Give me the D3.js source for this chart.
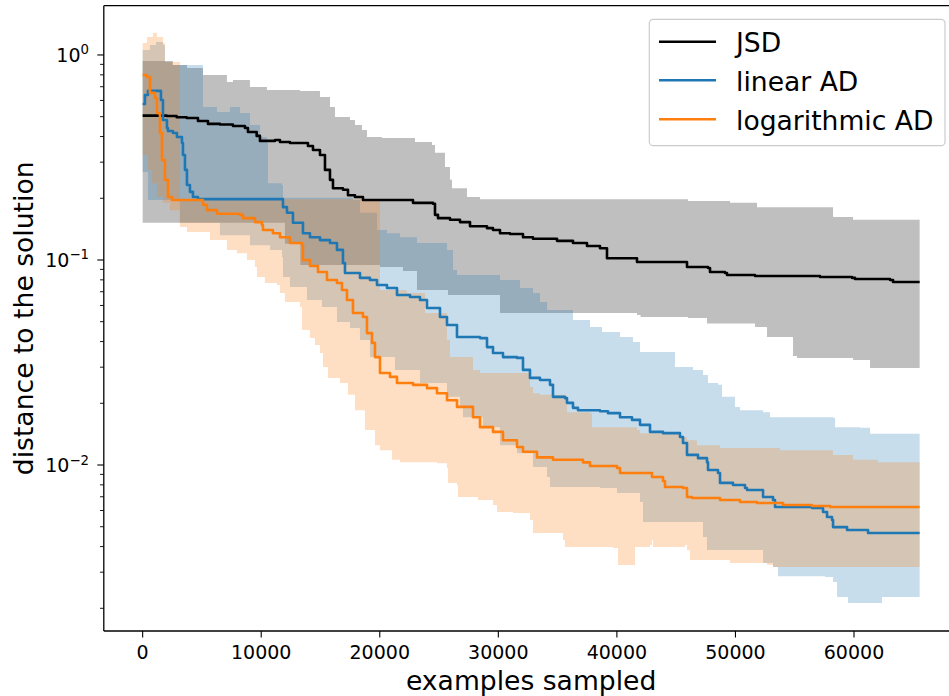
<!DOCTYPE html>
<html><head><meta charset="utf-8">
<script src="https://cdn.jsdelivr.net/npm/d3@7"></script>
<style>body{margin:0;background:#fff}svg{display:block}text{font-family:"DejaVu Sans",sans-serif;fill:#000}</style>
</head><body><svg id="c" width="949" height="696"></svg>
<script>
const seriesNames = ["JSD", "linear AD", "logarithmic AD"];
const seriesColors = ["#000000", "#1f77b4", "#ff7f0e"];
const xTicks = [0, 10000, 20000, 30000, 40000, 50000, 60000];
const yTicks = [1, 0.1, 0.01];
const yTickLabels = [["10", "0"], ["10", "\u22121"], ["10", "\u22122"]];
const xLabel = "examples sampled";
const yLabel = "distance to the solution";

const jsdMedian = [[0,0.506],[2024,0.504],[2868,0.497],[3712,0.493],[4665,0.476],[5508,0.461],[6520,0.458],[7617,0.450],[8629,0.440],[8882,0.421],[9616,0.403],[9894,0.381],[11160,0.385],[11582,0.376],[12425,0.372],[13944,0.360],[14366,0.344],[14956,0.325],[15378,0.275],[15800,0.246],[16053,0.224],[16896,0.220],[17318,0.207],[17908,0.203],[18583,0.196],[22802,0.190],[24489,0.188],[24657,0.166],[24910,0.160],[25923,0.157],[26766,0.153],[27610,0.146],[29044,0.143],[29550,0.140],[30140,0.135],[30983,0.134],[32080,0.129],[32923,0.127],[34948,0.124],[36297,0.121],[37478,0.117],[38575,0.114],[39165,0.102],[41696,0.0978],[45913,0.0924],[47686,0.0914],[47855,0.0874],[49120,0.0864],[49289,0.0845],[51651,0.0835],[57134,0.0826],[59834,0.0818],[60087,0.0808],[63039,0.0799],[63292,0.0781],[65536,0.0781]];
const jsdUpper = [[0,0.935],[2556,0.894],[3737,0.864],[5087,0.799],[7110,0.738],[7617,0.755],[9051,0.698],[10485,0.675],[13268,0.668],[14956,0.624],[15800,0.558],[16222,0.498],[17487,0.482],[17908,0.456],[18499,0.431],[18921,0.398],[20187,0.394],[22971,0.376],[24404,0.364],[24657,0.333],[25501,0.284],[25923,0.246],[26091,0.224],[27357,0.203],[28453,0.198],[45998,0.194],[49542,0.190],[51820,0.181],[58231,0.162],[59918,0.157],[65536,0.157]];
const jsdLower = [[0,0.152],[12000,0.120],[13300,0.0945],[20018,0.0924],[21958,0.0884],[23139,0.0714],[25754,0.0675],[30140,0.0551],[41696,0.0539],[42000,0.0527],[45998,0.0521],[47601,0.0490],[51651,0.0471],[52663,0.0421],[54857,0.0340],[55194,0.0333],[59918,0.0325],[61352,0.0297],[65536,0.0297]];

const linMedian = [[0,0.577],[194,0.638],[447,0.668],[1459,0.668],[1544,0.603],[1712,0.482],[2050,0.440],[2134,0.426],[2556,0.416],[2893,0.398],[3315,0.372],[3400,0.325],[3568,0.275],[3737,0.232],[3990,0.215],[4243,0.203],[4665,0.198],[11582,0.198],[11835,0.181],[12172,0.170],[12678,0.152],[13522,0.135],[14113,0.129],[14956,0.125],[15800,0.121],[16390,0.112],[16896,0.0967],[17065,0.0864],[18330,0.0818],[19174,0.0799],[19765,0.0755],[20608,0.0730],[21452,0.0675],[22549,0.0660],[23392,0.0638],[23983,0.0583],[25079,0.0527],[25670,0.0482],[26513,0.0421],[28453,0.0416],[29044,0.0376],[29550,0.0352],[30393,0.0336],[31574,0.0333],[32080,0.0291],[32670,0.0266],[33514,0.0260],[34357,0.0246],[34610,0.0215],[35622,0.0212],[35791,0.0201],[36297,0.0190],[36719,0.0185],[38575,0.0183],[39250,0.0179],[40262,0.0171],[41275,0.0166],[41949,0.0157],[42793,0.0145],[43889,0.0143],[45323,0.0137],[45576,0.0128],[45913,0.0112],[46842,0.0108],[47601,0.0103],[47686,0.00945],[48529,0.00914],[48698,0.00818],[49795,0.00799],[50807,0.00772],[50976,0.00755],[52241,0.00755],[52326,0.00698],[53169,0.00675],[53338,0.00624],[56459,0.00617],[57387,0.00590],[57725,0.00558],[58146,0.00539],[58231,0.00498],[59412,0.00482],[61183,0.00466],[65536,0.00466]];
const linUpper = [[0,1.058],[616,1.119],[1122,1.157],[1712,1.119],[1881,0.924],[2471,0.894],[5087,0.558],[6267,0.527],[7363,0.558],[8207,0.521],[9051,0.456],[9894,0.398],[10485,0.372],[10569,0.237],[11750,0.232],[11835,0.201],[17740,0.196],[18330,0.170],[19765,0.140],[20608,0.135],[21705,0.129],[23139,0.121],[25670,0.112],[26176,0.0894],[26513,0.0845],[30140,0.0799],[31827,0.0730],[32923,0.0690],[33514,0.0624],[34104,0.0570],[36297,0.0510],[37731,0.0471],[38744,0.0446],[40262,0.0421],[41359,0.0398],[41949,0.0356],[44733,0.0356],[44901,0.0301],[46420,0.0291],[47264,0.0275],[47686,0.0251],[48529,0.0246],[48867,0.0215],[49964,0.0192],[50386,0.0185],[52326,0.0181],[52916,0.0171],[58231,0.0170],[58399,0.0153],[60509,0.0152],[61352,0.0142],[65536,0.0142]];
const linLower = [[0,0.269],[447,0.196],[3146,0.152],[6520,0.132],[9051,0.118],[10738,0.112],[11750,0.103],[11835,0.0826],[12425,0.0738],[13859,0.0638],[15125,0.0590],[16390,0.0498],[17487,0.0466],[18330,0.0407],[19174,0.0336],[21282,0.0291],[23392,0.0251],[25670,0.0215],[26766,0.0192],[27019,0.0171],[28706,0.0153],[30140,0.0125],[31574,0.0114],[32923,0.00978],[34104,0.00874],[34357,0.00781],[38575,0.00772],[40009,0.00730],[41949,0.00660],[42202,0.00527],[47264,0.00446],[47601,0.00385],[52326,0.00333],[53169,0.00318],[53591,0.00287],[57556,0.00284],[58231,0.00269],[58568,0.00227],[59412,0.00227],[59496,0.00212],[62196,0.00212],[62364,0.00227],[65536,0.00227]];

const logMedian = [[0,0.799],[363,0.781],[616,0.653],[1038,0.617],[1206,0.521],[1459,0.416],[1628,0.307],[1881,0.246],[2134,0.203],[2471,0.196],[5087,0.186],[5424,0.175],[6267,0.168],[8207,0.166],[8460,0.160],[9473,0.153],[10063,0.148],[10148,0.140],[10991,0.135],[11582,0.129],[12425,0.121],[13437,0.118],[13522,0.100],[14113,0.0934],[14788,0.0874],[15547,0.0799],[16390,0.0772],[16812,0.0714],[17234,0.0638],[17740,0.0551],[18583,0.0527],[18921,0.0440],[19343,0.0394],[19596,0.0336],[20018,0.0281],[20862,0.0269],[21452,0.0251],[22802,0.0246],[23983,0.0237],[24826,0.0224],[25670,0.0207],[26513,0.0192],[27863,0.0171],[28453,0.0153],[29550,0.0145],[30393,0.0132],[31574,0.01224],[32080,0.0116],[33261,0.0109],[34610,0.0106],[37141,0.0103],[37731,0.00989],[40009,0.00967],[40262,0.00914],[42961,0.00874],[43889,0.00835],[44058,0.00781],[45576,0.00772],[45913,0.00698],[46335,0.00690],[48698,0.00675],[50386,0.00660],[51820,0.00653],[54013,0.00638],[56459,0.00631],[57978,0.00624],[65536,0.00624]];
const logUpper = [[0,1.144],[363,1.224],[869,1.280],[1206,1.224],[1712,1.144],[1881,0.924],[3146,0.198],[20018,0.0714],[22296,0.0690],[23814,0.0551],[25670,0.0407],[25923,0.0336],[27863,0.0291],[28453,0.0281],[32670,0.0240],[32923,0.0224],[33514,0.0220],[35622,0.0215],[35791,0.0181],[37731,0.0179],[37900,0.0153],[41696,0.0148],[41949,0.0143],[45323,0.0137],[45913,0.0132],[46757,0.0125],[48698,0.0121],[53760,0.0118],[58231,0.0112],[59918,0.0106],[62000,0.0103],[65536,0.0103]];
const logLower = [[0,0.325],[447,0.275],[784,0.237],[1206,0.203],[1712,0.190],[2303,0.175],[3146,0.145],[3737,0.137],[5677,0.125],[7110,0.112],[7954,0.108],[8798,0.100],[9473,0.0924],[9642,0.0826],[10316,0.0772],[11328,0.0755],[11582,0.0690],[12003,0.0624],[13268,0.0590],[13437,0.0456],[14113,0.0416],[14535,0.0385],[14956,0.0352],[15209,0.0301],[15631,0.0266],[16643,0.0251],[17318,0.0220],[17908,0.0185],[18752,0.0148],[19596,0.0125],[20018,0.0118],[21030,0.0106],[21705,0.0103],[24826,0.0102],[25670,0.00967],[25754,0.00818],[26513,0.00799],[26598,0.00698],[28285,0.00675],[29550,0.00638],[29887,0.00590],[31237,0.00583],[32670,0.00539],[32923,0.00466],[35454,0.00431],[35622,0.00398],[39672,0.00394],[40094,0.00325],[41359,0.00325],[41528,0.00398],[42793,0.00407],[42961,0.00431],[43046,0.00398],[45745,0.00407],[45913,0.00385],[46167,0.00344],[49542,0.00333],[52663,0.00325],[53169,0.00318],[65536,0.00318]];

const medians = [jsdMedian, linMedian, logMedian];
const uppers = [jsdUpper, linUpper, logUpper];
const lowers = [jsdLower, linLower, logLower];

const svg = d3.select("#c");
const L = 103.8, R = 958.5, T = 5.7, B = 631;
const x = d3.scaleLinear().domain([-3277, 68813]).range([L, R]);
const y = d3.scaleLog().domain([0.00155, 1.739]).range([B, T]);

svg.append("rect").attr("width", 949).attr("height", 696).attr("fill", "#fff");
svg.append("clipPath").attr("id", "clip").append("rect")
  .attr("x", L).attr("y", T).attr("width", R - L).attr("height", B - T);
const plot = svg.append("g").attr("clip-path", "url(#clip)");

function stepAt(arr, xv) { let v = arr[0][1]; for (const p of arr) { if (p[0] <= xv) v = p[1]; else break; } return v; }
function band(up, lo) {
  const xs = Array.from(new Set([...up.map(d => d[0]), ...lo.map(d => d[0])])).sort((a, b) => a - b);
  return xs.map(xv => ({ x: xv, hi: stepAt(up, xv), lo: stepAt(lo, xv) }));
}
const area = d3.area().x(d => x(d.x)).y0(d => y(d.lo)).y1(d => y(d.hi)).curve(d3.curveStepAfter);
const line = d3.line().x(d => x(d[0])).y(d => y(d[1])).curve(d3.curveStepAfter);

seriesNames.forEach((n, i) => {
  plot.append("path").attr("d", area(band(uppers[i], lowers[i])))
    .attr("fill", seriesColors[i]).attr("fill-opacity", 0.25).attr("stroke", "none");
});
seriesNames.forEach((n, i) => {
  plot.append("path").attr("d", line(medians[i]))
    .attr("fill", "none").attr("stroke", seriesColors[i]).attr("stroke-width", 2.6)
    .attr("stroke-linejoin", "round");
});

// spines
svg.append("line").attr("x1", L).attr("x2", L).attr("y1", T).attr("y2", B).attr("stroke", "#000").attr("stroke-width", 1.3);
svg.append("line").attr("x1", L).attr("x2", R).attr("y1", B).attr("y2", B).attr("stroke", "#000").attr("stroke-width", 1.3);
svg.append("line").attr("x1", L).attr("x2", R).attr("y1", T).attr("y2", T).attr("stroke", "#000").attr("stroke-width", 1.3);
svg.append("line").attr("x1", R).attr("x2", R).attr("y1", T).attr("y2", B).attr("stroke", "#000").attr("stroke-width", 1.3);

// x ticks
xTicks.forEach(t => {
  const px = x(t);
  svg.append("line").attr("x1", px).attr("x2", px).attr("y1", B).attr("y2", B + 6.5).attr("stroke", "#000").attr("stroke-width", 1.1);
  svg.append("text").attr("x", px).attr("y", 659).attr("text-anchor", "middle").attr("font-size", 19).text(t);
});
// y minor ticks
y.ticks().forEach(t => {
  const py = y(t);
  if (py < T - 0.5 || py > B + 0.5) return;
  const major = yTicks.some(m => Math.abs(m - t) / m < 1e-6);
  if (major) return;
  svg.append("line").attr("x1", L - 3.8).attr("x2", L).attr("y1", py).attr("y2", py).attr("stroke", "#000").attr("stroke-width", 0.9);
});
yTicks.forEach((t, i) => {
  const py = y(t);
  svg.append("line").attr("x1", L - 6.5).attr("x2", L).attr("y1", py).attr("y2", py).attr("stroke", "#000").attr("stroke-width", 1.1);
  const tx = svg.append("text").attr("x", 89).attr("y", py + 7).attr("text-anchor", "end").attr("font-size", 19);
  tx.append("tspan").text(yTickLabels[i][0]);
  tx.append("tspan").attr("font-size", 13.3).attr("dy", -7.5).text(yTickLabels[i][1]);
});

svg.append("text").attr("x", (L + R) / 2).attr("y", 690).attr("text-anchor", "middle").attr("font-size", 26.6).text(xLabel);
svg.append("text").attr("transform", `translate(33,${(T + B) / 2}) rotate(-90)`).attr("text-anchor", "middle").attr("font-size", 26.6).text(yLabel);

// legend
const lg = svg.append("g");
lg.append("rect").attr("x", 649.3).attr("y", 19.3).attr("width", 295.7).attr("height", 126.4).attr("rx", 4).attr("ry", 4)
  .attr("fill", "#fff").attr("fill-opacity", 0.8).attr("stroke", "#cccccc").attr("stroke-width", 1.2);
const rows = [41.7, 80.3, 119.3];
seriesNames.forEach((n, i) => {
  lg.append("line").attr("x1", 659).attr("x2", 716).attr("y1", rows[i]).attr("y2", rows[i]).attr("stroke", seriesColors[i]).attr("stroke-width", 2.6);
  lg.append("text").attr("x", 736).attr("y", rows[i] + 10.6).attr("font-size", 26.6).text(n);
});
</script></body></html>
